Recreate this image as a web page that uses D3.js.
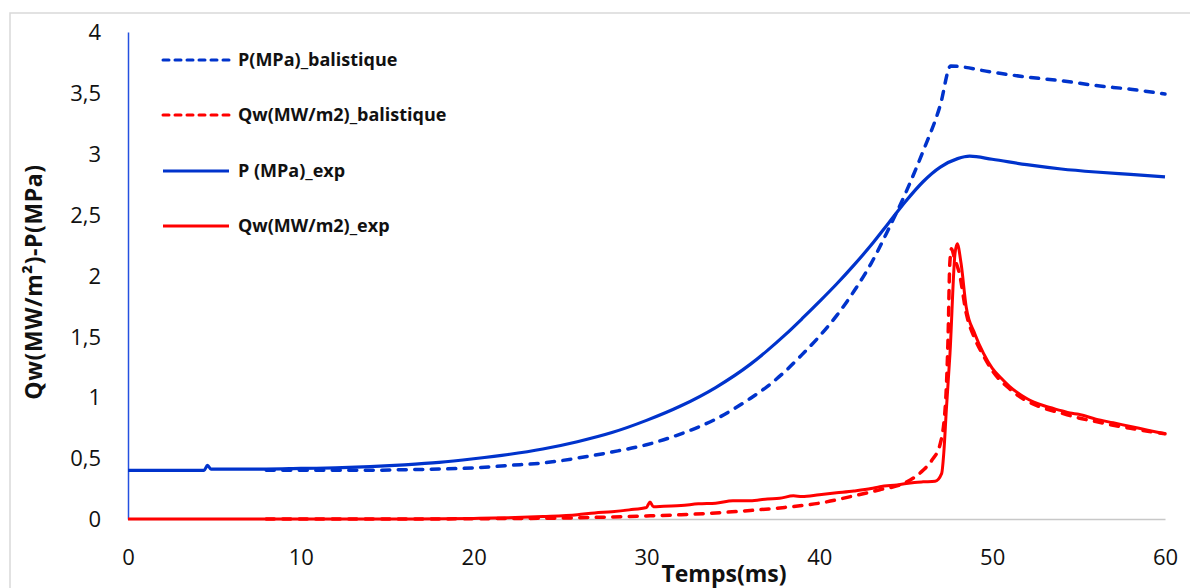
<!DOCTYPE html>
<html><head><meta charset="utf-8">
<script src="https://cdn.jsdelivr.net/npm/d3@7"></script>
<style>body{margin:0;background:#fff}svg{display:block}</style>
</head><body>
<svg id="c" width="1190" height="588"></svg>
<script>
// ---- data ----
const seriesNames = ["P(MPa)_balistique","Qw(MW/m2)_balistique","P (MPa)_exp","Qw(MW/m2)_exp"];
const xTicks = [0,10,20,30,40,50,60];
const yTicks = [0,0.5,1,1.5,2,2.5,3,3.5,4];
const yTickLabels = ["0","0,5","1","1,5","2","2,5","3","3,5","4"];

const pBalT = [8,10,12,14,16,18,20,22,24,26,28,30,32,34,36,37,38,39,40,41,42,43,44,45,46,47,47.6,50,52,54,56,58,60];
const pBalV = [0.40,0.40,0.40,0.40,0.405,0.41,0.42,0.44,0.46,0.50,0.55,0.61,0.70,0.82,0.99,1.09,1.21,1.35,1.50,1.67,1.87,2.10,2.38,2.68,3.02,3.40,3.72,3.67,3.63,3.60,3.56,3.53,3.49];

const qBalT = [8,16,20,22,24,26,28,30,32,34,36,38,40,42,43.5,45,46,46.5,47,47.3,47.45,47.55,47.65,47.8,48.1,48.5,49,49.5,50,51,52,53,54,55,56,57,58,59,60];
const qBalV = [0,0,0.002,0.004,0.006,0.01,0.017,0.025,0.035,0.05,0.07,0.095,0.13,0.19,0.24,0.30,0.40,0.48,0.62,0.95,1.5,2.1,2.22,2.15,2.02,1.69,1.48,1.34,1.22,1.07,0.97,0.91,0.87,0.83,0.80,0.77,0.745,0.72,0.70];

const pExpT = [0,2,4.4,4.6,4.8,6,8,10,12,14,16,18,20,22,24,26,28,30,32,34,36,37,38,39,40,41,42,43,44,45,46,47,48,48.7,50,52,54,56,58,60];
const pExpV = [0.40,0.40,0.40,0.44,0.41,0.41,0.41,0.415,0.42,0.43,0.445,0.465,0.495,0.53,0.575,0.635,0.71,0.81,0.93,1.08,1.27,1.385,1.51,1.645,1.785,1.93,2.085,2.25,2.43,2.61,2.77,2.89,2.96,2.98,2.955,2.91,2.875,2.85,2.83,2.81];

const qExpT = [0,10,16,20,22,24,26,27,28,29,30,30.2,30.4,31,32,33,34,35,36,37,37.7,38.5,39,40,41,42,43,43.5,44.5,45.5,46,46.7,47.08,47.2,47.35,47.56,47.85,47.98,48.2,48.5,49,49.5,50,50.5,51,52,53,54,54.5,55,56,57,58,59,60];
const qExpV = [0,0,0,0.005,0.01,0.02,0.035,0.05,0.06,0.075,0.095,0.14,0.10,0.105,0.11,0.125,0.13,0.15,0.15,0.165,0.17,0.19,0.185,0.20,0.215,0.23,0.25,0.265,0.28,0.30,0.305,0.31,0.375,0.54,0.9,1.36,2.18,2.26,2.10,1.74,1.52,1.36,1.24,1.16,1.09,0.99,0.93,0.89,0.87,0.86,0.82,0.79,0.76,0.73,0.70];

// ---- chart ----
const svg = d3.select("#c");
const BLUE = "#0033cc", RED = "#ff0000";
const x = d3.scaleLinear().domain([0,60]).range([128,1165]);
const y = d3.scaleLinear().domain([0,4]).range([519,32]);

// outer frame
svg.append("rect").attr("x",10).attr("y",13).attr("width",1200).attr("height",600)
  .attr("fill","none").attr("stroke","#d9d9d9").attr("stroke-width",1.5);

// x axis
const xa = svg.append("g").attr("transform","translate(0,519)")
  .call(d3.axisBottom(x).tickValues(xTicks).tickSize(0).tickPadding(0).tickFormat(d3.format("d")));
xa.select(".domain").attr("stroke","#c8c8c8").attr("stroke-width",1.5);
xa.selectAll("text").attr("font-family","'Open Sans'").attr("font-size",22).attr("fill","#111")
  .attr("dy",null).attr("y",46);

// y axis
const ya = svg.append("g").attr("transform","translate(128,0)")
  .call(d3.axisLeft(y).tickValues(yTicks).tickSize(0).tickPadding(0).tickFormat((d,i)=>yTickLabels[i]));
ya.select(".domain").attr("stroke","#2450e0").attr("stroke-width",1.5);
ya.selectAll("text").attr("font-family","'Open Sans'").attr("font-size",22).attr("fill","#111")
  .attr("x",-27).attr("dy","0.35em");

// titles
svg.append("text").attr("transform","translate(42,282) rotate(-90)").attr("text-anchor","middle")
  .attr("font-family","'Open Sans'").attr("font-weight","bold").attr("font-size",23).attr("fill","#111")
  .attr("letter-spacing",0.6)
  .text("Qw(MW/m²)-P(MPa)");
svg.append("text").attr("x",724).attr("y",582).attr("text-anchor","middle")
  .attr("font-family","'Open Sans'").attr("font-weight","bold").attr("font-size",23).attr("fill","#111")
  .text("Temps(ms)");

const lineMono = d3.line().x(d=>x(d[0])).y(d=>y(d[1])).curve(d3.curveMonotoneX);
const series = [
  {t:pBalT, v:pBalV, c:BLUE, dash:"8,8.5", w:3.5},
  {t:qBalT, v:qBalV, c:RED, dash:"8,8.5", w:3.5},
  {t:pExpT, v:pExpV, c:BLUE, dash:null, w:3.2},
  {t:qExpT, v:qExpV, c:RED, dash:null, w:3}
];
series.forEach(s=>{
  svg.append("path").datum(s.t.map((t,i)=>[t,s.v[i]])).attr("d",lineMono)
    .attr("fill","none").attr("stroke",s.c).attr("stroke-width",s.w)
    .attr("stroke-linecap",s.dash?"round":"butt").attr("stroke-linejoin","round")
    .attr("stroke-dasharray",s.dash);
});

// legend
const legY = [60,115,171,226];
series.forEach((s,i)=>{
  svg.append("line").attr("x1",163).attr("x2",229).attr("y1",legY[i]).attr("y2",legY[i])
    .attr("stroke",s.c).attr("stroke-width",3).attr("stroke-dasharray",s.dash?"6,6":null)
    .attr("stroke-linecap",s.dash?"round":"butt");
  svg.append("text").attr("x",238).attr("y",legY[i]).attr("dy","0.35em")
    .attr("font-family","'Open Sans'").attr("font-weight","bold").attr("font-size",18).attr("fill","#111")
    .text(seriesNames[i]);
});
</script>
</body></html>
